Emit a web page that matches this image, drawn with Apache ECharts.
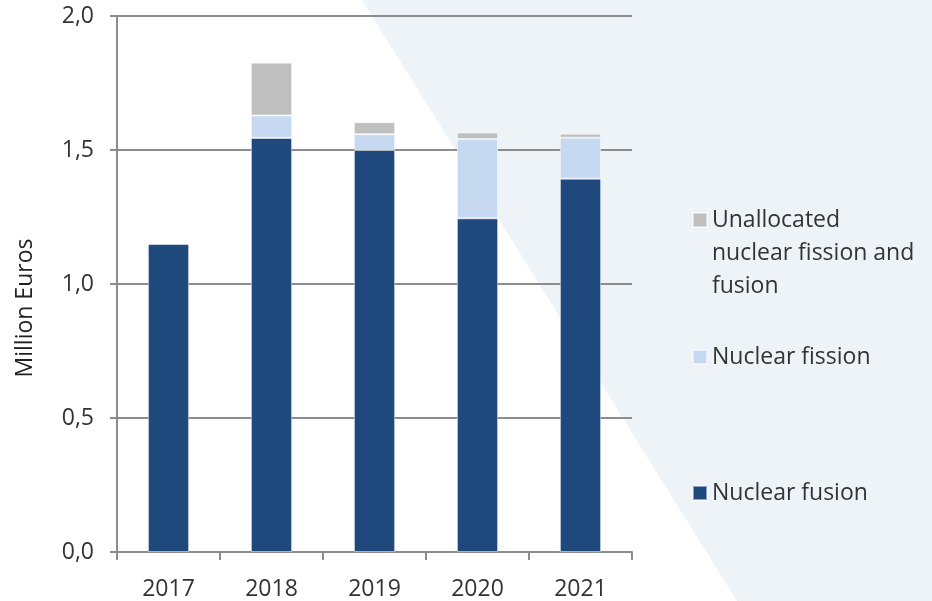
<!DOCTYPE html>
<html>
<head>
<meta charset="utf-8">
<script src="https://cdn.jsdelivr.net/npm/echarts@6/dist/echarts.min.js"></script>
<style>
  html, body { margin: 0; padding: 0; background: #fff; }
  #chart { width: 932px; height: 601px; }
</style>
</head>
<body>
<div id="chart"></div>
<script>
const years = ['2017', '2018', '2019', '2020', '2021'];
const fusion = [1.15, 1.545, 1.50, 1.245, 1.393];
const fission = [0, 0.084, 0.059, 0.296, 0.153];
const unallocated = [0, 0.197, 0.045, 0.024, 0.015];
const yTicks = [0, 0.5, 1.0, 1.5, 2.0];

const FONT = '"Open Sans", sans-serif';
const textColor = '#333';
const gridColor = '#8c8c8c';

let myChart = echarts.init(document.getElementById('chart'));

// square at the top of a tall box, so the icon sits next to the first line
const tallSquare = 'path://M0,0h14v14h-14z M0,80h0.01v0.01h-0.01z';

function legendAt(name, top, extra) {
  return Object.assign({
    data: [name],
    left: 692,
    top: top,
    padding: 0,
    itemWidth: 14,
    itemHeight: 14,
    itemGap: 7,
    icon: 'rect',
    selectedMode: false,
    textStyle: {
      fontFamily: FONT,
      fontSize: 23,
      lineHeight: 28,
      color: textColor
    }
  }, extra || {});
}

const barStyle = (color) => ({
  color: color,
  borderColor: 'rgba(255,255,255,0.5)',
  borderWidth: 1
});

myChart.setOption({
  animation: false,
  backgroundColor: '#fff',
  graphic: [{
    type: 'polygon',
    z: -10,
    silent: true,
    shape: { points: [[362, 0], [932, 0], [932, 601], [737, 601]] },
    style: { fill: '#eef3f7' }
  }],
  grid: { left: 117, right: 300, top: 16, bottom: 47.5 },
  legend: [
    legendAt('Unallocated', 203.5, {
      icon: tallSquare,
      itemHeight: 80,
      formatter: () => 'Unallocated\nnuclear fission and\nfusion',
      textStyle: { fontFamily: FONT, fontSize: 23, lineHeight: 33, color: textColor }
    }),
    legendAt('Nuclear fission', 343),
    legendAt('Nuclear fusion', 479)
  ],
  xAxis: {
    type: 'category',
    data: years,
    axisLine: { lineStyle: { color: gridColor, width: 2 } },
    axisTick: { show: true, length: 8, lineStyle: { color: gridColor, width: 2 } },
    axisLabel: { color: textColor, fontFamily: FONT, fontSize: 23, margin: 26 }
  },
  yAxis: {
    type: 'value',
    min: 0,
    max: 2,
    interval: 0.5,
    name: 'Million Euros',
    nameLocation: 'middle',
    nameGap: 80,
    nameRotate: 90,
    nameTextStyle: { color: '#222', fontFamily: FONT, fontSize: 23, padding: [0, 48, 0, 0] },
    axisLine: { show: true, lineStyle: { color: gridColor, width: 2 } },
    axisTick: { show: true, length: 7, lineStyle: { color: gridColor, width: 2 } },
    splitLine: { lineStyle: { color: gridColor, width: 2 } },
    axisLabel: {
      color: textColor, fontFamily: FONT, fontSize: 23, margin: 23,
      formatter: v => yTicks.includes(v) ? v.toFixed(1).replace('.', ',') : ''
    }
  },
  series: [
    {
      name: 'Nuclear fusion', type: 'bar', stack: 'total', barWidth: '40%',
      data: fusion, itemStyle: barStyle('#1f497d')
    },
    {
      name: 'Nuclear fission', type: 'bar', stack: 'total', barWidth: '40%',
      data: fission, itemStyle: barStyle('#c6d9f1')
    },
    {
      name: 'Unallocated', type: 'bar', stack: 'total', barWidth: '40%',
      data: unallocated, itemStyle: barStyle('#bfbfbf')
    }
  ]
});
</script>
</body>
</html>
